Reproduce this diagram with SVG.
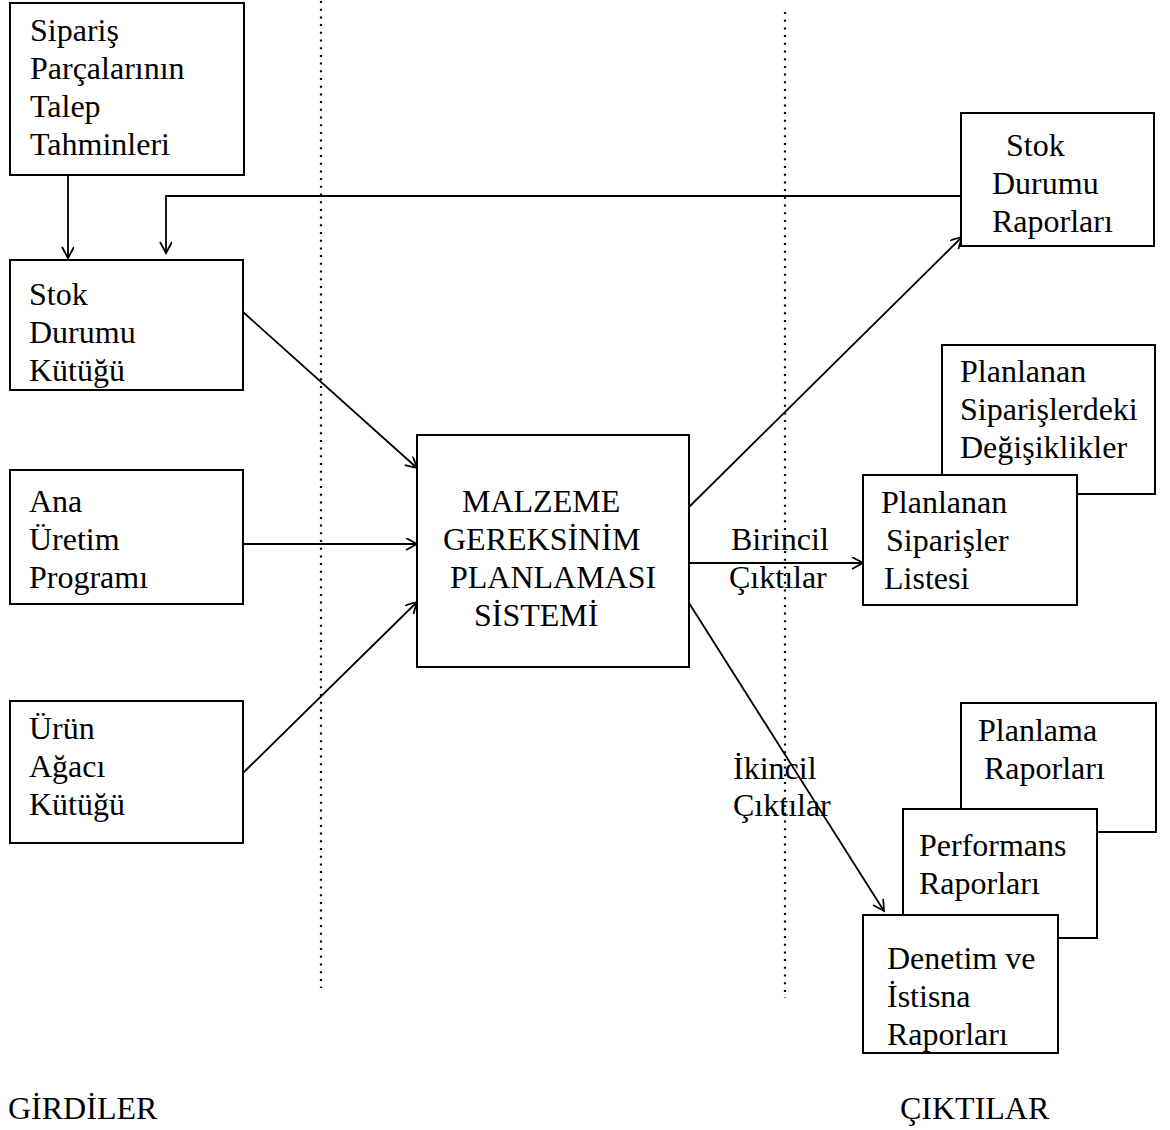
<svg xmlns="http://www.w3.org/2000/svg" width="1170" height="1130" viewBox="0 0 1170 1130">
  <style>
    .box { fill: #fff; stroke: #000; stroke-width: 2; }
    .lbl { font-family: "Times New Roman", "Liberation Serif", Tinos, Times, serif; font-size: 32px; fill: #000; }
    .wire { fill: none; stroke: #000; stroke-width: 1.8; }
    .sep { fill: none; stroke: #000; stroke-width: 2.2; stroke-dasharray: 2 5.7; }
  </style>
  <defs>
    <marker id="arrow" markerUnits="userSpaceOnUse" markerWidth="14" markerHeight="14" refX="12" refY="6" orient="auto">
      <path d="M1,0 L12,6 L1,12" fill="none" stroke="#000" stroke-width="1.8"/>
    </marker>
  </defs>
  <rect width="1170" height="1130" fill="#fff"/>

  <!-- column separators -->
  <g id="separators">
    <line class="sep" x1="321" y1="1" x2="321" y2="988"/>
    <line class="sep" x1="785" y1="12" x2="785" y2="998"/>
  </g>

  <!-- connectors -->
  <g id="connectors">
    <line class="wire" x1="68" y1="175" x2="68" y2="258" marker-end="url(#arrow)"/>
    <polyline class="wire" points="961,196 166,196 166,253" marker-end="url(#arrow)"/>
    <line class="wire" x1="243" y1="312" x2="417" y2="468" marker-end="url(#arrow)"/>
    <line class="wire" x1="243" y1="544" x2="417" y2="544" marker-end="url(#arrow)"/>
    <line class="wire" x1="243" y1="773" x2="417" y2="602" marker-end="url(#arrow)"/>
    <line class="wire" x1="689" y1="507" x2="962" y2="237" marker-end="url(#arrow)"/>
    <line class="wire" x1="689" y1="563" x2="863" y2="563" marker-end="url(#arrow)"/>
    <line class="wire" x1="689" y1="603" x2="884" y2="911" marker-end="url(#arrow)"/>
    <text class="lbl" x="731" y="550">Birincil</text>
    <text class="lbl" x="729" y="588">Çıktılar</text>
    <text class="lbl" x="733" y="779">İkincil</text>
    <text class="lbl" x="733" y="816">Çıktılar</text>
  </g>

  <!-- inputs -->
  <g id="node-talep">
    <rect class="box" x="10" y="3" width="234" height="172"/>
    <text class="lbl" x="30" y="41">Sipariş</text>
    <text class="lbl" x="30" y="79">Parçalarının</text>
    <text class="lbl" x="30" y="117">Talep</text>
    <text class="lbl" x="30" y="155">Tahminleri</text>
  </g>
  <g id="node-stok-kutugu">
    <rect class="box" x="10" y="260" width="233" height="130"/>
    <text class="lbl" x="29" y="305">Stok</text>
    <text class="lbl" x="29" y="343">Durumu</text>
    <text class="lbl" x="29" y="381">Kütüğü</text>
  </g>
  <g id="node-ana-uretim">
    <rect class="box" x="10" y="470" width="233" height="134"/>
    <text class="lbl" x="29" y="512">Ana</text>
    <text class="lbl" x="29" y="550">Üretim</text>
    <text class="lbl" x="29" y="588">Programı</text>
  </g>
  <g id="node-urun-agaci">
    <rect class="box" x="10" y="701" width="233" height="142"/>
    <text class="lbl" x="29" y="739">Ürün</text>
    <text class="lbl" x="29" y="777">Ağacı</text>
    <text class="lbl" x="29" y="815">Kütüğü</text>
  </g>

  <!-- system -->
  <g id="node-mgp">
    <rect class="box" x="417" y="435" width="272" height="232"/>
    <text class="lbl" x="462" y="512">MALZEME</text>
    <text class="lbl" x="443" y="550">GEREKSİNİM</text>
    <text class="lbl" x="450" y="588">PLANLAMASI</text>
    <text class="lbl" x="474" y="626">SİSTEMİ</text>
  </g>

  <!-- outputs -->
  <g id="node-stok-raporlari">
    <rect class="box" x="961" y="113" width="193" height="133"/>
    <text class="lbl" x="1006" y="156">Stok</text>
    <text class="lbl" x="992" y="194">Durumu</text>
    <text class="lbl" x="992" y="232">Raporları</text>
  </g>
  <g id="node-degisiklikler">
    <rect class="box" x="942" y="345" width="213" height="149"/>
    <text class="lbl" x="960" y="382">Planlanan</text>
    <text class="lbl" x="960" y="420">Siparişlerdeki</text>
    <text class="lbl" x="960" y="458">Değişiklikler</text>
  </g>
  <g id="node-siparis-listesi">
    <rect class="box" x="863" y="475" width="214" height="130"/>
    <text class="lbl" x="881" y="513">Planlanan</text>
    <text class="lbl" x="886" y="551">Siparişler</text>
    <text class="lbl" x="884" y="589">Listesi</text>
  </g>
  <g id="node-planlama-raporlari">
    <rect class="box" x="961" y="703" width="195" height="129"/>
    <text class="lbl" x="978" y="741">Planlama</text>
    <text class="lbl" x="984" y="779">Raporları</text>
  </g>
  <g id="node-performans-raporlari">
    <rect class="box" x="903" y="809" width="194" height="129"/>
    <text class="lbl" x="919" y="856">Performans</text>
    <text class="lbl" x="919" y="894">Raporları</text>
  </g>
  <g id="node-denetim-raporlari">
    <rect class="box" x="863" y="915" width="195" height="138"/>
    <text class="lbl" x="887" y="969">Denetim ve</text>
    <text class="lbl" x="887" y="1007">İstisna</text>
    <text class="lbl" x="887" y="1045">Raporları</text>
  </g>

  <!-- column titles -->
  <g id="titles">
    <text class="lbl" x="8" y="1119">GİRDİLER</text>
    <text class="lbl" x="900" y="1119">ÇIKTILAR</text>
  </g>
</svg>
